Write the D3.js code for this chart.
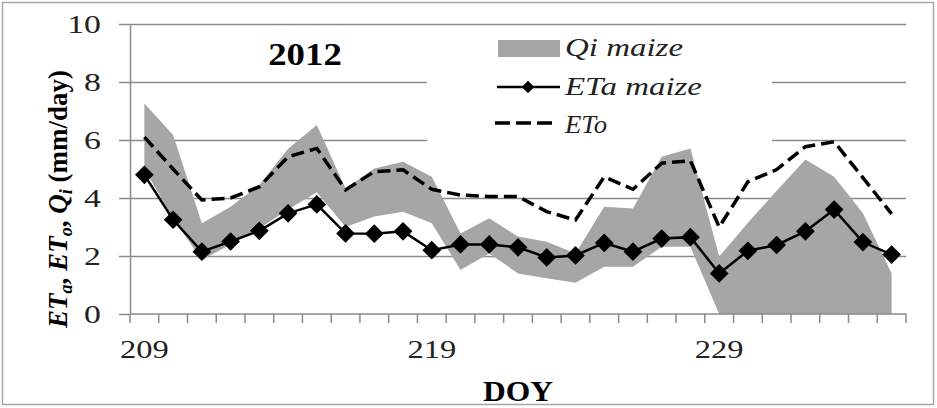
<!DOCTYPE html>
<html>
<head>
<meta charset="utf-8">
<script src="https://cdnjs.cloudflare.com/ajax/libs/d3/7.8.5/d3.min.js"></script>
<style>
  body { margin: 0; background: #fff; }
  svg { display: block; }
  text { font-family: "Liberation Serif", Tinos, "DejaVu Serif", serif; }
</style>
</head>
<body>
<div id="chart"></div>
<script>
// DOY categories
const doy = [209, 210, 211, 212, 213, 214, 215, 216, 217, 218, 219, 220, 221, 222,
             223, 224, 225, 226, 227, 228, 229, 230, 231, 232, 233, 234, 235];

// ETa maize (diamonds)
const etaMaize = [4.8, 3.25, 2.15, 2.5, 2.87, 3.47, 3.78, 2.78, 2.77, 2.85, 2.2, 2.4, 2.4, 2.3,
                  1.95, 2.02, 2.45, 2.15, 2.6, 2.65, 1.4, 2.18, 2.38, 2.85, 3.6, 2.48, 2.05];

// ETo (dashed)
const eto = [6.1, 5.0, 3.93, 4.0, 4.39, 5.42, 5.71, 4.28, 4.91, 4.97, 4.3, 4.1, 4.05, 4.05,
             3.53, 3.24, 4.73, 4.3, 5.2, 5.28, 3.0, 4.56, 4.98, 5.77, 5.94, 4.7, 3.45];

// Qi maize band (grey area)
const qiUpper = [7.26, 6.17, 3.13, 3.7, 4.45, 5.7, 6.52, 4.33, 5.02, 5.25, 4.73, 2.78, 3.3, 2.67,
                 2.49, 2.09, 3.7, 3.64, 5.42, 5.71, 1.98, 3.15, 4.25, 5.33, 4.73, 3.47, 1.4];
const qiLower = [5.0, 3.3, 1.86, 2.4, 2.95, 3.6, 4.2, 3.0, 3.36, 3.53, 3.13, 1.52, 2.09, 1.4,
                 1.23, 1.08, 1.63, 1.63, 2.32, 2.32, 0, 0, 0, 0, 0, 0, 0];

const yTicks = [0, 2, 4, 6, 8, 10];
const xLabels = [209, 219, 229];
const legendNames = ["Qi maize", "ETa maize", "ETo"];

const width = 937, height = 408;

let svg = d3.select("#chart")
    .append("svg")
    .attr("width", width)
    .attr("height", height);

// outer chart border
svg.append("rect")
    .attr("x", 2.5).attr("y", 2.5)
    .attr("width", 931).attr("height", 402)
    .attr("fill", "#fff")
    .attr("stroke", "#a6a6a6")
    .attr("stroke-width", 1.5);

let x = d3.scaleBand()
    .domain(doy)
    .range([130, 906])
    .padding(0);

let y = d3.scaleLinear()
    .domain([0, 10])
    .range([314, 24]);

let xc = function(d) { return x(d) + x.bandwidth() / 2; };

let data = doy.map(function(d, i) {
    return { doy: d, eta: etaMaize[i], eto: eto[i], lo: qiLower[i], hi: qiUpper[i] };
});

// gridlines
svg.append("g")
    .attr("transform", "translate(130,0)")
    .call(d3.axisLeft(y).tickValues(yTicks.slice(1)).tickSize(-(906 - 130)).tickFormat(""))
    .call(g => g.select(".domain").remove())
    .call(g => g.selectAll("line").attr("stroke", "#8a8a8a").attr("stroke-width", 1.5));

// y axis with outside ticks
svg.append("g")
    .attr("transform", "translate(130,0)")
    .call(d3.axisLeft(y).tickValues(yTicks).tickSize(11).tickSizeOuter(0).tickFormat(""))
    .call(g => g.select(".domain").attr("stroke", "#8a8a8a").attr("stroke-width", 1.5))
    .call(g => g.selectAll("line").attr("stroke", "#8a8a8a").attr("stroke-width", 1.5));

// y tick labels
svg.append("g").selectAll("text")
    .data(yTicks)
    .enter()
    .append("text")
    .attr("transform", d => `translate(101, ${y(d) + 9}) scale(1.3,1)`)
    .style("text-anchor", "end")
    .style("font-size", "26px")
    .attr("fill", "#222")
    .text(d => d);

// Qi maize area
svg.append("path")
    .datum(data)
    .attr("fill", "#a6a6a6")
    .attr("d", d3.area()
        .x(d => xc(d.doy))
        .y0(d => y(d.lo))
        .y1(d => y(d.hi)));

// x axis line and category boundary ticks
svg.append("line")
    .attr("x1", 130).attr("x2", 906)
    .attr("y1", y(0)).attr("y2", y(0))
    .attr("stroke", "#8a8a8a").attr("stroke-width", 1.5);

svg.append("g").selectAll("line")
    .data(doy.concat(["end"]))
    .enter()
    .append("line")
    .attr("x1", d => d === "end" ? x(doy[doy.length - 1]) + x.bandwidth() : x(d))
    .attr("x2", d => d === "end" ? x(doy[doy.length - 1]) + x.bandwidth() : x(d))
    .attr("y1", y(0)).attr("y2", y(0) + 9)
    .attr("stroke", "#8a8a8a").attr("stroke-width", 1.5);

// x labels
svg.append("g").selectAll("text")
    .data(xLabels)
    .enter()
    .append("text")
    .attr("transform", d => `translate(${xc(d)}, 358) scale(1.25,1)`)
    .style("text-anchor", "middle")
    .style("font-size", "26px")
    .attr("fill", "#222")
    .text(d => d);

// legend background
let legend = svg.append("g");
legend.append("rect")
    .attr("x", 427).attr("y", 30)
    .attr("width", 345).attr("height", 114)
    .attr("fill", "#fff");

// ETo dashed line
svg.append("path")
    .datum(data)
    .attr("fill", "none")
    .attr("stroke", "#000")
    .attr("stroke-width", 3.5)
    .attr("stroke-dasharray", "13,6")
    .attr("d", d3.line().x(d => xc(d.doy)).y(d => y(d.eto)));

// ETa line and diamonds
svg.append("path")
    .datum(data)
    .attr("fill", "none")
    .attr("stroke", "#000")
    .attr("stroke-width", 2.5)
    .attr("d", d3.line().x(d => xc(d.doy)).y(d => y(d.eta)));

svg.append("g").selectAll("path")
    .data(data)
    .enter()
    .append("path")
    .attr("d", d3.symbol(d3.symbolSquare, 175))
    .attr("transform", d => `translate(${xc(d.doy)}, ${y(d.eta)}) rotate(45)`)
    .attr("fill", "#000");

// title
svg.append("text")
    .attr("transform", "translate(305, 65) scale(1.15,1)")
    .style("text-anchor", "middle")
    .style("font-weight", "bold")
    .style("font-size", "32px")
    .text("2012");

// x axis title
svg.append("text")
    .attr("transform", "translate(518, 401) scale(1.05,1)")
    .style("text-anchor", "middle")
    .style("font-weight", "bold")
    .style("font-size", "30px")
    .text("DOY");

// y axis title
let yt = svg.append("text")
    .attr("transform", "translate(67, 199) rotate(-90)")
    .style("text-anchor", "middle")
    .style("font-weight", "bold")
    .style("font-size", "27px");
yt.append("tspan").style("font-style", "italic").text("ET");
yt.append("tspan").style("font-style", "italic").style("font-size", "18px").attr("dy", 5).text("a");
yt.append("tspan").attr("dy", -5).text(", ");
yt.append("tspan").style("font-style", "italic").text("ET");
yt.append("tspan").style("font-style", "italic").style("font-size", "18px").attr("dy", 5).text("o");
yt.append("tspan").attr("dy", -5).text(", ");
yt.append("tspan").style("font-style", "italic").text("Q");
yt.append("tspan").style("font-style", "italic").style("font-size", "18px").attr("dy", 5).text("i");
yt.append("tspan").attr("dy", -5).text(" (mm/day)");

// legend entries
legend.append("rect")
    .attr("x", 498).attr("y", 40)
    .attr("width", 62).attr("height", 17)
    .attr("fill", "#a6a6a6");

legend.append("line")
    .attr("x1", 497).attr("x2", 560)
    .attr("y1", 87).attr("y2", 87)
    .attr("stroke", "#000").attr("stroke-width", 2.5);
legend.append("path")
    .attr("d", d3.symbol(d3.symbolSquare, 80))
    .attr("transform", "translate(528, 87) rotate(45)")
    .attr("fill", "#000");

legend.append("line")
    .attr("x1", 495).attr("x2", 556)
    .attr("y1", 123).attr("y2", 123)
    .attr("stroke", "#000").attr("stroke-width", 3.5)
    .attr("stroke-dasharray", "15,6");

let legendY = [56, 95, 133];
let legendW = [118, 137, 42];
legend.selectAll("text.lbl")
    .data(legendNames)
    .enter()
    .append("text")
    .attr("class", "lbl")
    .attr("x", 565)
    .attr("y", (d, i) => legendY[i])
    .attr("textLength", (d, i) => legendW[i])
    .attr("lengthAdjust", "spacingAndGlyphs")
    .style("font-style", "italic")
    .style("font-size", "25px")
    .attr("fill", "#222")
    .text(d => d);
</script>
</body>
</html>
